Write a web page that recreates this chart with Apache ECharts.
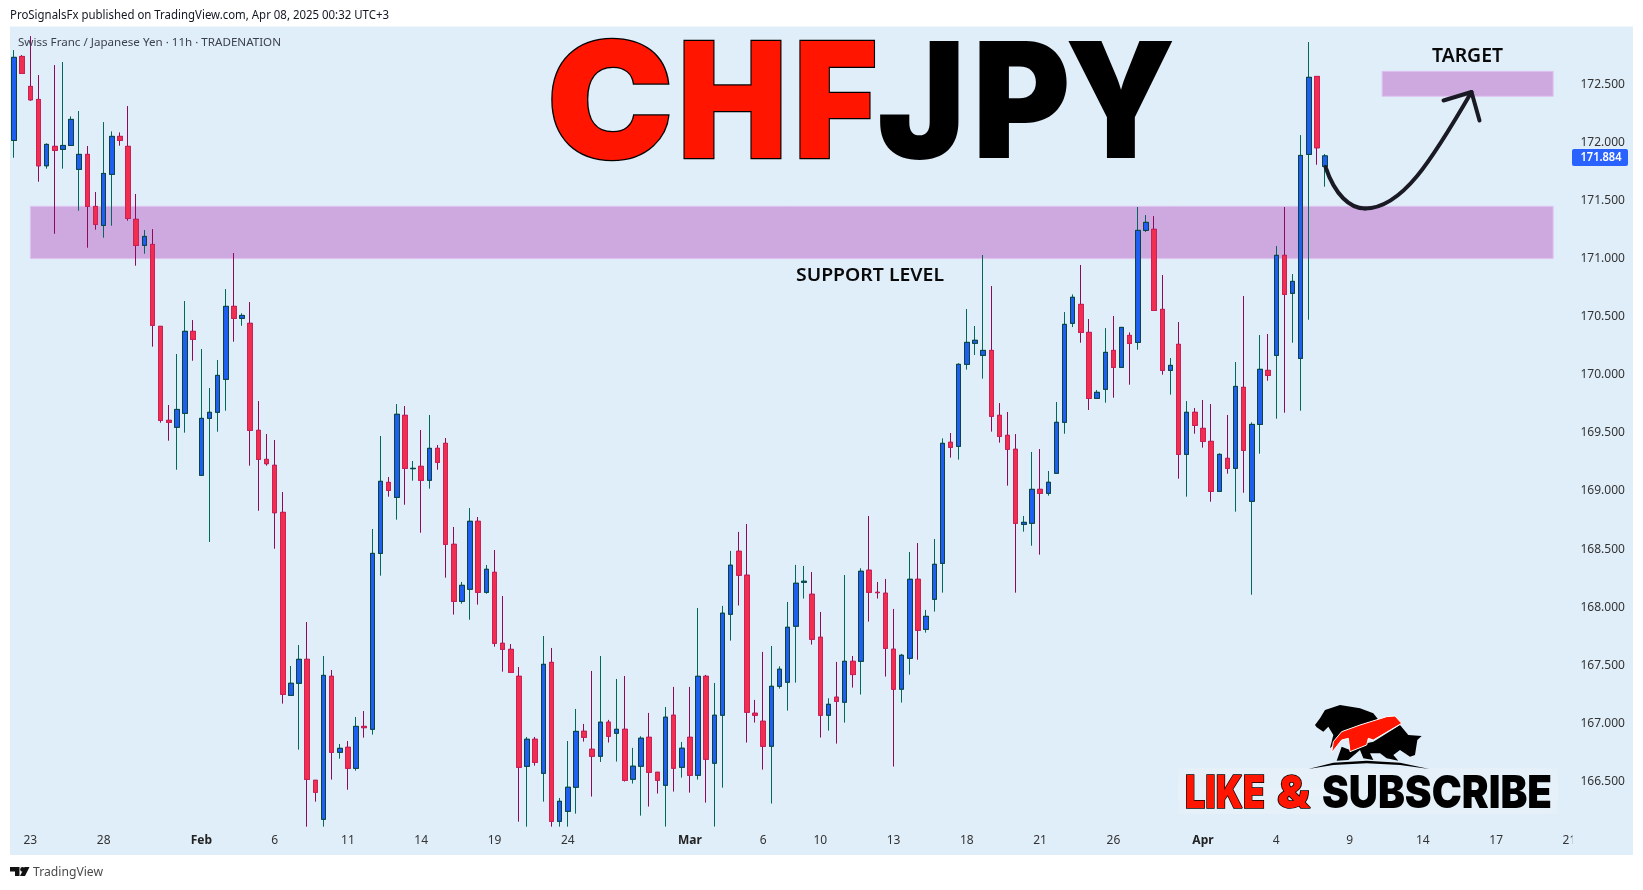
<!DOCTYPE html>
<html><head><meta charset="utf-8">
<style>html,body{margin:0;padding:0;background:#fff}#c{width:1643px;height:890px}</style>
<script src="https://cdn.jsdelivr.net/npm/echarts@6/dist/echarts.min.js"></script>
</head><body><div id="c"></div>
<script>
const opens=[172.017,172.740,172.482,172.370,171.799,171.966,171.940,171.974,171.768,171.897,
171.449,171.286,171.725,172.052,171.966,171.338,171.114,171.122,170.417,169.608,
169.548,169.668,170.374,169.135,169.625,169.677,169.961,170.589,170.486,170.443,
169.522,169.272,169.221,168.816,167.241,167.345,167.551,166.510,166.174,167.405,
166.751,166.794,166.613,166.974,166.949,168.463,169.074,168.945,169.651,169.192,
169.212,169.092,169.367,169.410,168.541,168.050,168.154,168.739,168.128,168.300,
167.689,167.637,167.405,166.630,166.863,166.570,167.525,166.157,166.243,166.450,
166.932,166.777,166.717,167.010,166.915,166.949,166.519,166.631,166.880,166.579,
166.467,167.070,166.622,166.880,166.553,167.405,166.657,167.070,167.939,168.481,
168.275,167.087,167.018,166.803,167.319,167.354,167.836,168.214,168.111,167.741,
167.070,167.225,167.182,167.534,167.534,168.318,168.128,168.120,167.638,167.294,
167.560,168.240,167.809,168.068,168.377,169.419,169.384,170.090,170.271,170.167,
170.210,169.651,169.479,169.359,168.713,168.722,169.014,168.980,169.152,169.591,
170.443,170.606,170.365,169.797,169.875,170.210,170.064,170.339,170.279,171.243,
171.252,170.563,170.038,170.262,169.315,169.677,169.539,169.427,168.997,169.281,
169.195,169.892,168.911,169.573,170.038,170.167,171.028,170.701,170.141,171.897,
172.568,171.794];
const closes=[172.732,172.594,172.367,171.799,171.983,171.931,171.974,172.198,171.897,171.449,
171.295,171.733,172.052,172.017,171.346,171.114,171.191,170.425,169.608,169.591,
169.702,170.374,170.305,169.625,169.677,169.995,170.589,170.486,170.511,169.522,
169.272,169.235,168.813,167.250,167.345,167.551,166.518,166.407,167.413,166.751,
166.785,166.613,166.974,166.963,168.463,169.083,169.005,169.660,169.195,169.195,
169.092,169.367,169.246,168.541,168.050,168.188,168.739,168.128,168.326,167.689,
167.637,167.439,166.622,166.863,166.665,167.508,166.157,166.329,166.450,166.931,
166.880,166.717,167.010,166.889,166.949,166.510,166.631,166.872,166.579,166.510,
167.053,166.614,166.786,166.553,167.405,166.691,167.070,167.948,168.361,168.275,
167.096,167.070,166.803,167.319,167.466,167.827,168.206,168.223,167.724,167.070,
167.164,167.190,167.534,167.420,168.309,168.128,168.125,167.646,167.294,167.586,
168.240,167.801,167.921,168.369,169.410,169.376,170.090,170.279,170.297,170.210,
169.643,169.470,169.359,168.722,168.730,169.014,168.980,169.075,169.591,170.434,
170.667,170.365,169.797,169.849,170.193,170.064,170.408,170.270,171.243,171.312,
170.554,170.038,170.081,169.315,169.677,169.565,169.427,168.997,169.315,169.195,
169.900,169.350,169.573,170.047,169.995,171.028,170.692,170.804,171.888,172.560,
171.954,171.884];
const lows=[171.868,172.594,172.359,171.662,171.774,171.214,171.774,171.974,171.412,171.094,
171.249,171.180,171.283,171.972,171.326,170.939,171.042,170.242,169.588,169.433,
169.183,169.502,170.121,169.135,168.561,169.510,169.691,170.285,170.422,169.218,
168.830,169.218,168.503,167.170,167.241,166.774,166.111,166.326,166.111,166.516,
166.696,166.429,166.593,166.877,166.903,168.271,168.951,168.753,168.882,169.089,
168.641,169.020,169.183,168.254,167.936,168.030,167.892,168.022,168.116,167.660,
167.445,167.439,166.154,166.111,166.636,166.326,166.111,166.111,166.111,166.223,
166.843,166.370,166.668,166.835,166.671,166.499,166.482,166.206,166.284,166.396,
166.112,166.413,166.533,166.404,166.516,166.318,166.112,166.447,167.712,168.014,
166.835,167.007,166.602,166.310,167.299,167.110,167.351,168.074,167.678,166.878,
166.938,166.826,167.007,167.308,167.248,167.876,168.074,167.403,166.628,167.179,
167.419,167.548,167.781,167.962,168.125,169.287,169.270,170.044,170.170,169.967,
169.511,169.416,169.046,168.125,168.650,168.529,168.452,168.960,169.152,169.493,
170.411,170.276,169.697,169.797,169.760,169.803,170.064,169.915,170.216,171.229,
170.554,170.001,169.829,169.106,168.951,169.493,169.373,168.908,168.997,169.149,
168.822,168.985,168.107,169.321,169.949,169.622,169.674,170.276,169.691,170.474,
171.808,171.619];
const highs=[172.795,172.752,172.915,172.580,171.992,172.666,172.692,172.224,172.270,171.969,
171.573,172.175,172.095,172.086,172.313,171.556,171.246,171.254,170.420,169.740,
170.179,170.635,170.471,170.222,169.886,170.127,170.738,171.048,170.529,170.626,
169.774,169.490,169.439,168.991,167.494,167.674,167.872,166.510,167.580,167.459,
166.822,166.848,167.055,167.106,168.673,169.473,169.120,169.748,169.731,169.258,
169.525,169.654,169.396,169.456,168.690,168.217,168.853,168.776,168.363,168.492,
168.096,167.683,167.485,166.883,166.883,167.752,167.649,166.358,166.848,167.124,
166.995,167.451,167.580,167.030,167.382,167.408,166.789,166.889,167.090,166.579,
167.141,167.314,166.840,167.314,167.993,167.417,167.348,168.011,168.484,168.648,
168.716,167.202,167.615,167.666,167.491,168.045,168.364,168.355,168.303,167.959,
167.216,167.529,168.277,167.580,168.335,168.785,168.217,168.243,167.985,167.598,
168.475,168.552,167.976,168.587,169.453,169.499,170.099,170.566,170.420,171.031,
170.764,169.757,169.680,169.490,168.785,169.336,169.361,169.172,169.766,170.540,
170.692,170.945,170.480,169.869,170.402,170.506,170.408,170.365,171.444,171.375,
171.366,170.859,170.144,170.454,169.774,169.714,169.783,169.748,169.324,169.654,
170.110,170.678,169.591,170.342,170.351,171.108,171.444,170.867,172.063,172.864,
172.568,171.900];
const priceTicks=[166.5,167,167.5,168,168.5,169,169.5,170,170.5,171,171.5,172,172.5];
const timeTickIndex=[2,11,23,32,41,50,59,68,83,92,99,108,117,126,135,146,155,164,173,182,191];
const timeTickLabels=['23','28','Feb','6','11','14','19','24','Mar','6','10','13','18','21','26','Apr','4','9','14','17','21'];
const monthLabels=['Feb','Mar','Apr'];
const slots=192;
const categories=Array.from({length:slots},(_,i)=>{const k=timeTickIndex.indexOf(i);return k<0?'':timeTickLabels[k];});
const supportZone={from:2,to:189,low:171.0,high:171.45};
const targetZone={from:168,to:189,low:172.397,high:172.612};
const lastPrice=171.884;

const PANEL='#e0eef9', UI='"Noto Sans",sans-serif';
const cv=document.createElement('canvas').getContext('2d');
function fit(text,font,w){cv.font=font;return w/cv.measureText(text).width;}
function txt(text,font,x,y,w,fill,extra,z){
  const s=w?fit(text,font,w):1;
  return {type:'text',x:x,y:y,scaleX:s,z:z||50,silent:true,
    style:Object.assign({text:text,font:font,fill:fill,textAlign:'left',textVerticalAlign:'middle'},extra||{})};
}
const bigFont='900 161px Inter';
const redStyle={stroke:'#000',lineWidth:2.5,lineJoin:'round',shadowBlur:20,shadowColor:'rgba(255,255,255,1)'};
const blackStyle={shadowBlur:20,shadowColor:'rgba(255,255,255,1)'};
const bigLetters=[['C',552,117,'#ff1500',redStyle],['H',684,97,'#ff1500',redStyle],['F',800,74,'#ff1500',redStyle],
  ['J',880,79,'#000',blackStyle],['P',979,88,'#000',blackStyle],['Y',1068,105,'#000',blackStyle]];
function bigGlyph(g){
  cv.font=bigFont;
  const m=cv.measureText(g[0]);
  const s=g[2]/(m.actualBoundingBoxLeft+m.actualBoundingBoxRight);
  return {type:'text',x:g[1]+m.actualBoundingBoxLeft*s,y:109.5,scaleX:s,z:50,silent:true,
    style:Object.assign({text:g[0],font:bigFont,fill:g[3],textAlign:'left',textVerticalAlign:'middle'},g[4])};
}
const lz=(a)=>a.map(p=>[1160+p[0]/3,690+p[1]/3]);
const logoBear=[[465,105],[480,85],[495,60],[540,45],[600,55],[640,70],[660,95],[640,105],[590,115],[545,125],[525,160],[510,175],[520,135],[505,110],[490,125],[470,112]];
const logoBull=[[530,212],[545,170],[570,180],[620,160],[640,155],[720,105],[745,135],[785,138],[772,150],[765,195],[750,200],[720,180],[700,195],[715,212],[680,205],[660,190],[630,190],[640,210],[610,205],[600,180],[565,210]];
const logoSwoosh=[[515,188],[520,155],[545,125],[600,105],[680,80],[705,78],[725,100],[640,150],[625,145],[620,165],[570,185],[565,145],[545,150]];
const logoArc=[[445,237],[520,218],[620,212],[720,218],[808,237],[720,225],[620,220],[520,225]];
const poly=(pts,fill,stroke)=>({type:'polygon',z:50,silent:true,shape:{points:lz(pts)},style:{fill:fill,stroke:stroke||null,lineWidth:stroke?1:0}});

const graphics=[
 {type:'rect',z:-1,silent:true,shape:{x:10,y:26.5,width:1623,height:828.5},style:{fill:PANEL}},
 {type:'rect',z:60,silent:true,shape:{x:1572.5,y:832,width:30,height:20},style:{fill:PANEL}},
 txt('ProSignalsFx published on TradingView.com, Apr 08, 2025 00:32 UTC+3','12px '+UI,10,16,379,'#131722'),
 txt('Swiss Franc / Japanese Yen · 11h · TRADENATION','11.5px '+UI,18,43,263,'#3c4150'),
 txt('SUPPORT LEVEL','600 18px '+UI,796,276,148,'#0a0a0a'),
 txt('TARGET','600 19px '+UI,1432,57,71,'#0a0a0a'),
 txt('TradingView','13px '+UI,33,872.5,70,'#4a4a4a'),
 {type:'polygon',z:50,silent:true,shape:{points:[[10,867],[19.5,867],[19.5,876],[15,876],[15,871.5],[10,871.5]]},style:{fill:'#111'}},
 {type:'circle',z:50,silent:true,shape:{cx:22.5,cy:869.4,r:2.3},style:{fill:'#111'}},
 {type:'polygon',z:50,silent:true,shape:{points:[[29.5,867],[25,876],[20,876],[24.5,867]]},style:{fill:'#111'}},
 ...bigLetters.map(bigGlyph),
 {type:'bezierCurve',z:40,silent:true,shape:{x1:1325.5,y1:167,cpx1:1335,cpy1:195,cpx2:1350,cpy2:208.5,x2:1365,y2:208.5},style:{stroke:'#191a24',lineWidth:4,fill:null,lineCap:'round'}},
 {type:'bezierCurve',z:40,silent:true,shape:{x1:1365,y1:208.5,cpx1:1402,cpy1:208.5,cpx2:1432,cpy2:160,x2:1471.5,y2:92},style:{stroke:'#191a24',lineWidth:4,fill:null,lineCap:'round'}},
 {type:'polyline',z:40,silent:true,shape:{points:[[1443.5,100.5],[1471.5,92],[1479.5,120.5]]},style:{stroke:'#191a24',lineWidth:4,fill:null,lineCap:'round',lineJoin:'round'}},
 {type:'rect',z:45,silent:true,shape:{x:1178,y:768,width:380,height:46},style:{fill:'rgba(255,255,255,.14)',shadowBlur:16,shadowColor:'rgba(255,255,255,.45)'}},
 poly(logoArc,'#000'),poly(logoBull,'#000'),poly(logoBear,'#000'),poly(logoSwoosh,'#ff1500','#fff'),
 txt('LIKE','900 45px Inter',1185,794,80,'#ff1500',{stroke:'#000',lineWidth:1.6}),
 txt('&','900 45px Inter',1277,794,33,'#ff1500',{stroke:'#000',lineWidth:1.6}),
 txt('SUBSCRIBE','900 45px Inter',1322,794,230,'#000'),
 {type:'rect',z:55,silent:true,shape:{x:1572,y:149,width:56,height:17,r:2},style:{fill:'#2962ff'}},
 txt(lastPrice.toFixed(3),'600 12px '+UI,1580.5,158,41,'#fff',{},56),
];

const bodies=opens.map((o,i)=>[o,closes[i],Math.min(o,closes[i]),Math.max(o,closes[i])]);
const full=opens.map((o,i)=>[o,closes[i],lows[i],highs[i]]);
const zoneArea=z=>[{xAxis:z.from,yAxis:z.high},{xAxis:z.to,yAxis:z.low}];
const chart=echarts.init(document.getElementById('c'),null,{renderer:'canvas'});
chart.setOption({
 animation:false,backgroundColor:'#fff',
 grid:{left:10,top:26.7,width:1563.5,height:800.3,containLabel:false},
 xAxis:{type:'category',boundaryGap:true,data:categories,
   axisLine:{show:false},axisTick:{show:false},splitLine:{show:false},
   axisLabel:{interval:0,margin:8,hideOverlap:false,fontFamily:UI,fontSize:12,color:'#333',
     formatter:v=>monthLabels.includes(v)?`{b|${v}}`:v,
     rich:{b:{fontWeight:700,fontFamily:UI,fontSize:12,color:'#222'}}}},
 yAxis:{type:'value',position:'right',min:166.108,max:172.996,
   axisLine:{show:false},axisTick:{show:false},splitLine:{show:false},
   axisLabel:{customValues:priceTicks,margin:7,padding:[3,0,0,0],fontFamily:UI,fontSize:12,color:'#333',formatter:v=>v.toFixed(3)}},
 graphic:{elements:graphics},
 series:[
  {type:'candlestick',name:'CHFJPY wicks',data:full,barWidth:5,z:3,clip:true,
   itemStyle:{color:'#1e5ef0',color0:'#f22e50',borderColor:'#00695c',borderColor0:'#8e0a58',borderWidth:1},
   markArea:{silent:true,z:1,itemStyle:{color:'#cda9df',borderColor:'#dfc3f2',borderWidth:1},
     data:[zoneArea(supportZone),zoneArea(targetZone)]}},
  {type:'candlestick',name:'CHFJPY bodies',data:bodies,barWidth:5,z:4,clip:true,
   itemStyle:{color:'#1e5ef0',color0:'#f22e50',borderColor:'#0b4440',borderColor0:'#cc2058',borderWidth:1}}
 ]
});
</script></body></html>
